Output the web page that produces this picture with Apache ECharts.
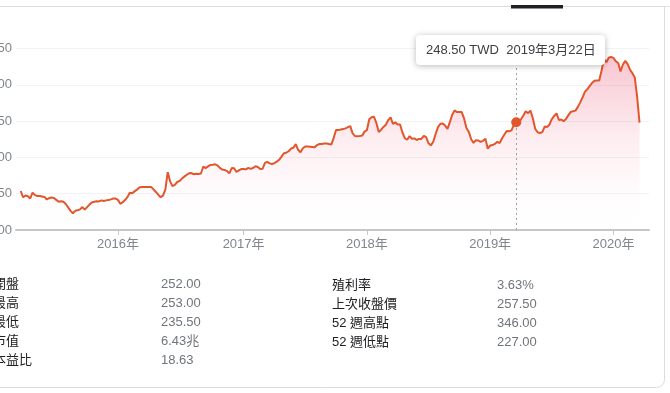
<!DOCTYPE html>
<html><head><meta charset="utf-8">
<script src="https://cdn.jsdelivr.net/npm/echarts@6/dist/echarts.min.js"></script>
<style>html,body{margin:0;padding:0;background:#fff;overflow:hidden}#c{width:670px;height:393px}</style>
</head><body><div id="c"></div>
<script>
// ---- data ----
const firstWeek = '2015-03-06';           // first (padding) category, weekly steps
const yTicks = [100, 150, 200, 250, 300, 350];
const prices = [null, null,
153.7,145,147.5,146.5,143.5,151.5,148,146.8,146.8,146.2,
145.6,142,144,144.8,144,141.5,138.8,139.7,138.8,135.8,
131.2,126.4,123.1,126.4,127.1,128.4,131.6,128,131.5,135,
138,138.8,139.6,139.4,140.8,139.9,140.8,141.2,142.2,143.3,
143.3,141.5,136,138.2,141.2,145.3,151.3,150.5,153.2,155.6,
158.5,159.3,159.2,159.2,159.2,159.4,156,152.4,148.6,145.2,
147.4,156,179.7,167,160.5,162.2,166.1,167.6,170.8,173.5,
176.1,178.1,178.4,176.8,177.4,177,177.8,187.4,185.2,187.6,
189.6,190,190.5,188.9,185.5,183.2,182.8,181.2,178,185.3,
185.1,180,182,183.9,184.1,183.5,185.5,184.2,185.4,187.8,
186.8,184,184.3,192.4,193.9,191.8,190.9,192.2,194.2,196.7,
201,205.7,206.4,208.5,212.2,213.3,218.3,210.5,207.1,212.6,
215,214.9,214.7,214.3,213.9,217,218.5,218.3,219.2,219.2,
218.5,217.6,227,237.6,237.7,238.3,239,240,241.6,243,
233,229.4,229.1,229.5,230,235.5,237.5,252.5,255.4,256,
247.5,235,238.2,242,245,251.3,255.2,246.3,248.3,245.4,
245.4,234.3,226.4,224.3,229.3,225.7,226.2,224,225.5,225.5,
229.7,228,219.5,216.6,221.5,232.2,241.8,246.3,246.6,243.9,
239.2,248.6,258.8,264.7,262.4,262.4,262.4,253.7,240.4,235.1,
225,219.9,223.7,223.3,221.3,222.8,225.6,212,216.3,217,
218.6,221.5,219.6,226.1,231.5,236.2,235.9,237.2,244.8,248.5,
248.4,252.5,257.6,263.7,260.9,264.5,254,239.5,234.7,233.7,
234.8,242.5,242,245,252.6,257.1,260.6,251.5,252.2,249.9,
253,258.2,262.6,263.7,264.4,269.6,275.8,282.8,290.6,293.9,
298.6,302.6,305.7,306,306,319.7,335.5,331.2,337.2,338.3,
337.1,332.5,330,318.5,328,333,328.6,320.8,316,310,283.5,248,
null, null, null, null];
const tipIndex = 211;          // 2019-03-22
const currency = 'TWD';
const statLabelsLeft = ['開盤', '最高', '最低', '市值', '本益比'];
const statValuesLeft = ['252.00', '253.00', '235.50', '6.43兆', '18.63'];
const statLabelsRight = ['殖利率', '上次收盤價', '52 週高點', '52 週低點'];
const statValuesRight = ['3.63%', '257.50', '346.00', '227.00'];

// ---- build ----
const weeks = [];
const t0 = Date.parse(firstWeek + 'T00:00:00Z');
for (let i = 0; i < prices.length; i++) {
  weeks.push(new Date(t0 + i * 7 * 864e5).toISOString().slice(0, 10));
}
const isYearStart = (i) => i > 0 && weeks[i].slice(0, 4) !== weeks[i - 1].slice(0, 4);
const tipDate = weeks[tipIndex].split('-').map(Number);
const tipText = prices[tipIndex].toFixed(2) + ' ' + currency + '  ' +
  tipDate[0] + '年' + tipDate[1] + '月' + tipDate[2] + '日';

const FONT = '"Liberation Sans", Arial, "Noto Sans CJK TC", sans-serif';
const LINE = '#e2562c';
const graphics = [
  {type: 'line', shape: {x1: 0, y1: 6.5, x2: 670, y2: 6.5}, style: {stroke: '#e3e3e3', lineWidth: 1}, z: 50},
  {type: 'rect', shape: {x: 511, y: 5, width: 52, height: 3.5}, style: {fill: '#202124'}, z: 51},
  {type: 'rect', shape: {x: -20, y: 6.5, width: 684.5, height: 381, r: [0, 0, 8, 0]}, style: {fill: 'none', stroke: '#dadce0', lineWidth: 1}, z: 50},
  {type: 'rect', shape: {x: 416, y: 35, width: 189, height: 30, r: 4},
    style: {fill: '#fff', shadowBlur: 6, shadowColor: 'rgba(0,0,0,0.28)', shadowOffsetY: 1}, z: 100},
  {type: 'text', x: 426, y: 50, style: {text: tipText, fill: '#3c4043', font: '13px ' + FONT, verticalAlign: 'middle'}, z: 101}
];
statLabelsLeft.forEach((t, i) => {
  graphics.push({type: 'text', x: -7, y: 284.5 + 19 * i, style: {text: t, fill: '#202124', font: '13px ' + FONT, verticalAlign: 'middle'}});
  graphics.push({type: 'text', x: 161, y: 284.5 + 19 * i, style: {text: statValuesLeft[i], fill: '#70757a', font: '13px ' + FONT, verticalAlign: 'middle'}});
});
statLabelsRight.forEach((t, i) => {
  graphics.push({type: 'text', x: 332, y: 285 + 19 * i, style: {text: t, fill: '#202124', font: '13px ' + FONT, verticalAlign: 'middle'}});
  graphics.push({type: 'text', x: 497, y: 285 + 19 * i, style: {text: statValuesRight[i], fill: '#70757a', font: '13px ' + FONT, verticalAlign: 'middle'}});
});

const chart = echarts.init(document.getElementById('c'), null, {renderer: 'canvas'});
chart.setOption({
  animation: false,
  backgroundColor: '#fff',
  grid: {left: 16, right: 21, top: 48.5, bottom: 163, containLabel: false, outerBoundsMode: 'none'},
  xAxis: {
    type: 'category', data: weeks, boundaryGap: false,
    axisLine: {lineStyle: {color: '#c6c6c6', width: 2}},
    axisTick: {interval: isYearStart, length: 5, lineStyle: {color: '#c6c6c6', width: 1}},
    axisLabel: {interval: isYearStart, formatter: v => v.slice(0, 4) + '年', color: '#80868b', fontSize: 13, fontFamily: FONT, margin: 8},
    splitLine: {show: false}
  },
  yAxis: {
    type: 'value', min: yTicks[0], max: yTicks[yTicks.length - 1], interval: yTicks[1] - yTicks[0],
    axisLine: {show: false}, axisTick: {show: false},
    axisLabel: {color: '#80868b', fontSize: 13, fontFamily: FONT, margin: 4},
    splitLine: {lineStyle: {color: '#f1f3f4', width: 1}}
  },
  series: [{
    type: 'line', data: prices, showSymbol: false, silent: true,
    lineStyle: {color: LINE, width: 2},
    emphasis: {disabled: true},
    areaStyle: {color: new echarts.graphic.LinearGradient(0, 0, 0, 1, [
      {offset: 0, color: 'rgba(232,62,100,0.42)'},
      {offset: 0.45, color: 'rgba(232,62,100,0.14)'},
      {offset: 0.8, color: 'rgba(232,62,100,0.02)'},
      {offset: 1, color: 'rgba(232,62,100,0)'}])},
    markLine: {silent: true, symbol: 'none', label: {show: false},
      lineStyle: {color: '#9aa0a6', type: [2, 3], width: 1},
      emphasis: {disabled: true},
      data: [{xAxis: weeks[tipIndex]}]},
    markPoint: {silent: true, symbol: 'circle', symbolSize: 10, itemStyle: {color: LINE},
      label: {show: false},
      data: [{coord: [weeks[tipIndex], prices[tipIndex]]}]}
  }],
  graphic: graphics
});
</script>
</body></html>
